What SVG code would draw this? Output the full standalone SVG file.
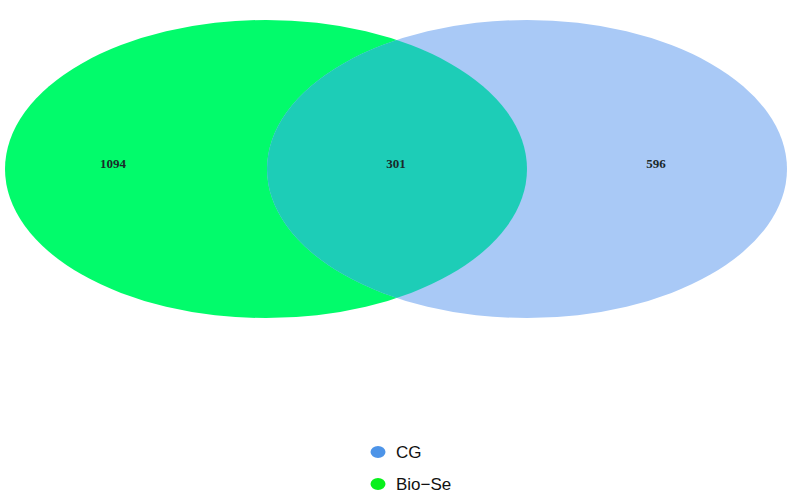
<svg xmlns="http://www.w3.org/2000/svg" width="792" height="499" viewBox="0 0 792 499">
<style>
.num{font-family:"Liberation Serif","Times New Roman",serif;font-size:13px;font-weight:bold;fill:#1a2a2a;text-anchor:middle}
.leg{font-family:"Liberation Sans",Arial,sans-serif;font-size:17px;fill:#111}
</style>
<defs>
<clipPath id="clipGreen"><ellipse cx="266" cy="169" rx="261" ry="149"/></clipPath>
</defs>
<rect width="792" height="499" fill="#fff"/>
<g id="set-bio-se"><ellipse cx="266" cy="169" rx="261" ry="149" fill="#02fb6b"/></g>
<g id="set-cg"><ellipse cx="527" cy="169" rx="260" ry="149" fill="#a9c9f6"/></g>
<g id="overlap"><ellipse cx="527" cy="169" rx="260" ry="149" fill="#1dcdb7" clip-path="url(#clipGreen)"/></g>
<g id="labels">
<text class="num" x="113" y="168">1094</text>
<text class="num" x="396" y="168">301</text>
<text class="num" x="656" y="168">596</text>
</g>
<g id="legend">
<ellipse cx="378" cy="452" rx="7.5" ry="6" fill="#4d94e8"/>
<text class="leg" x="396" y="458">CG</text>
<ellipse cx="378" cy="484" rx="7.5" ry="6" fill="#08f01c"/>
<text class="leg" x="396" y="490">Bio−Se</text>
</g>
<g id="connectors"/>
</svg>
